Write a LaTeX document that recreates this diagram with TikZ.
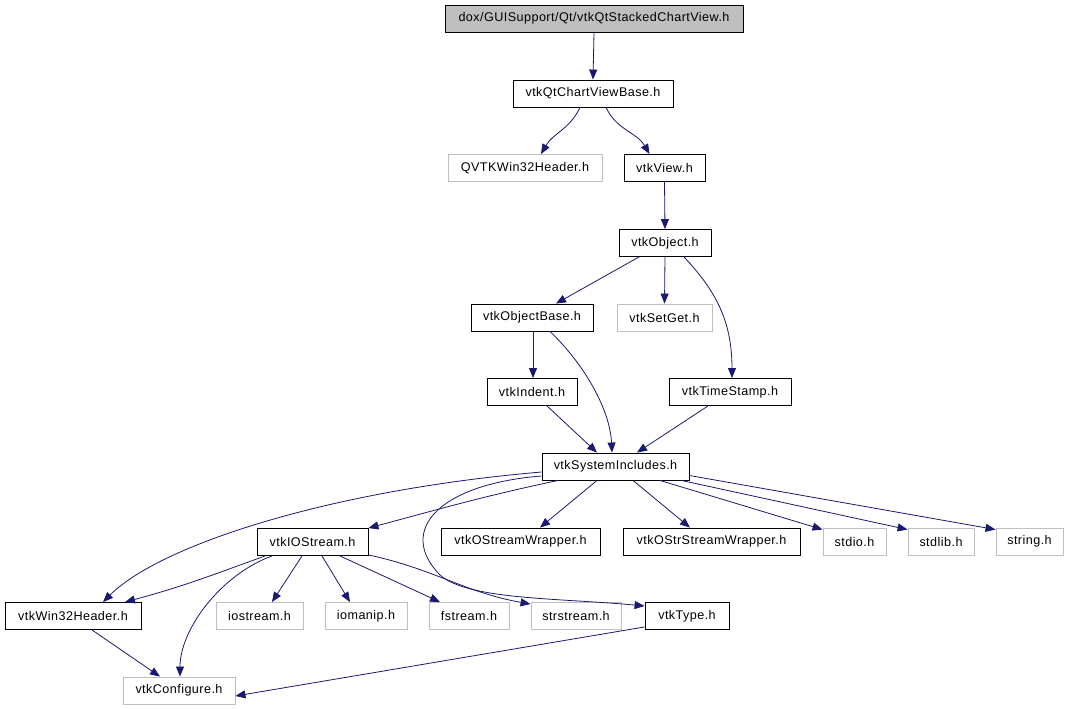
\documentclass[tikz,border=0pt]{standalone}
\usepackage{fontspec}
\setmainfont{Liberation Sans}[LetterSpace=3.5]
\usetikzlibrary{arrows.meta}
\definecolor{edgeblue}{RGB}{25,25,112}
\definecolor{boxgray}{RGB}{191,191,191}

\begin{document}
\begin{tikzpicture}[x=1pt, y=-1pt,
    file/.style={rectangle, draw=black, line width=0.9pt, minimum height=27pt, inner sep=0pt, font=\fontsize{12.6}{14}\selectfont},
    sysfile/.style={file, draw=boxgray},
    topfile/.style={file, fill=boxgray},
    dep/.style={-{Triangle[length=10pt,width=8pt]}, draw=edgeblue, line width=0.8pt}
]
    \useasboundingbox (0,0) rectangle (1068,709);

    % files
    \node[topfile, minimum width=298pt] (root) at (594,18.5) {dox/GUISupport/Qt/vtkQtStackedChartView.h};
    \node[file, minimum width=160pt] (base) at (593,93.5) {vtkQtChartViewBase.h};
    \node[sysfile, minimum width=154pt] (qvtk) at (525,168) {QVTKWin32Header.h};
    \node[file, minimum width=81pt] (view) at (664.5,168) {vtkView.h};
    \node[file, minimum width=92pt] (object) at (665,243) {vtkObject.h};
    \node[file, minimum width=122pt] (objbase) at (532,317.5) {vtkObjectBase.h};
    \node[sysfile, minimum width=95pt] (setget) at (664.5,317.5) {vtkSetGet.h};
    \node[file, minimum width=90pt] (indent) at (532,392) {vtkIndent.h};
    \node[file, minimum width=122pt] (timestamp) at (730,392) {vtkTimeStamp.h};
    \node[file, minimum width=147pt] (sysinc) at (615.5,466.5) {vtkSystemIncludes.h};
    \node[file, minimum width=111pt] (iostr) at (312.5,542) {vtkIOStream.h};
    \node[file, minimum width=159pt] (ostrw) at (520.5,541.5) {vtkOStreamWrapper.h};
    \node[file, minimum width=177pt] (ostrstrw) at (711.5,541.5) {vtkOStrStreamWrapper.h};
    \node[sysfile, minimum width=63pt] (stdio) at (854.5,541.5) {stdio.h};
    \node[sysfile, minimum width=66pt] (stdlib) at (941,541.5) {stdlib.h};
    \node[sysfile, minimum width=67pt] (string) at (1029.5,541.5) {string.h};
    \node[file, minimum width=136pt] (win32) at (73,616) {vtkWin32Header.h};
    \node[sysfile, minimum width=87pt] (iostream) at (259.5,616) {iostream.h};
    \node[sysfile, minimum width=82pt] (iomanip) at (366,616) {iomanip.h};
    \node[sysfile, minimum width=80pt] (fstream) at (469,616) {fstream.h};
    \node[sysfile, minimum width=90pt] (strstream) at (576,616) {strstream.h};
    \node[file, minimum width=84pt] (vtktype) at (687,616) {vtkType.h};
    \node[sysfile, minimum width=112pt] (config) at (179,690.5) {vtkConfigure.h};

    % includes
    \draw[dep] (root.south) -- (base.north);
    \draw[dep] ([xshift=-13pt]base.south) to[out=-115,in=60] ([xshift=16pt]qvtk.north);
    \draw[dep] ([xshift=13pt]base.south) to[out=-65,in=120] ([xshift=-15pt]view.north);
    \draw[dep] (view.south) -- (object.north);
    \draw[dep] ([xshift=-26pt]object.south) -- ([xshift=24pt]objbase.north);
    \draw[dep] (object.south) -- (setget.north);
    \draw[dep] ([xshift=19pt]object.south) .. controls (715,290) and (732,320) .. ([xshift=2pt]timestamp.north);
    \draw[dep] ([xshift=1pt]objbase.south) -- ([xshift=1pt]indent.north);
    \draw[dep] ([xshift=18pt]objbase.south) .. controls (585,365) and (610,410) .. ([xshift=-3.5pt]sysinc.north);
    \draw[dep] ([xshift=15pt]indent.south) -- ([xshift=-18.5pt]sysinc.north);
    \draw[dep] ([xshift=-22pt]timestamp.south) -- ([xshift=21.5pt]sysinc.north);

    \draw[dep] ([yshift=-5.5pt]sysinc.west) .. controls (330,490) and (160,545) .. ([xshift=30pt]win32.north);
    \draw[dep] ([xshift=-57.5pt]sysinc.south) to[out=-168,in=15] (iostr.north east);
    \draw[dep] ([xshift=-18.5pt]sysinc.south) -- ([xshift=19.5pt]ostrw.north);
    \draw[dep] ([xshift=17.5pt]sysinc.south) -- ([xshift=-21.5pt]ostrstrw.north);
    \draw[dep] ([xshift=44.5pt]sysinc.south) -- ([yshift=-2pt]stdio.north west);
    \draw[dep] ([xshift=66pt]sysinc.south) -- ([yshift=-2pt]stdlib.north west);
    \draw[dep] ([yshift=-9pt]sysinc.east) -- ([yshift=-2pt]string.north west);
    \draw[dep] ([yshift=-9.5pt]sysinc.west) .. controls (440,484) and (396,530) .. (440,575)
        .. controls (468,600) and (560,598) .. ([yshift=10pt]vtktype.west);

    \draw[dep] ([xshift=-47.5pt]iostr.south) to[out=-160,in=15] ([xshift=52pt]win32.north);
    \draw[dep] ([xshift=-40.5pt]iostr.south) .. controls (220,575) and (180,630) .. ([xshift=1pt]config.north);
    \draw[dep] ([xshift=-10.5pt]iostr.south) -- ([xshift=12.5pt]iostream.north);
    \draw[dep] ([xshift=9.5pt]iostr.south) -- ([xshift=-16pt]iomanip.north);
    \draw[dep] ([xshift=27.5pt]iostr.south) -- ([xshift=-29pt]fstream.north);
    \draw[dep] ([yshift=1pt]iostr.south east) to[out=-12,in=170] ([yshift=-2pt]strstream.north west);

    \draw[dep] ([xshift=19pt]win32.south) -- ([xshift=-19pt]config.north);
    \draw[dep] ([yshift=3pt]vtktype.south west) -- ([yshift=-5.5pt]config.east);
\end{tikzpicture}
\end{document}
